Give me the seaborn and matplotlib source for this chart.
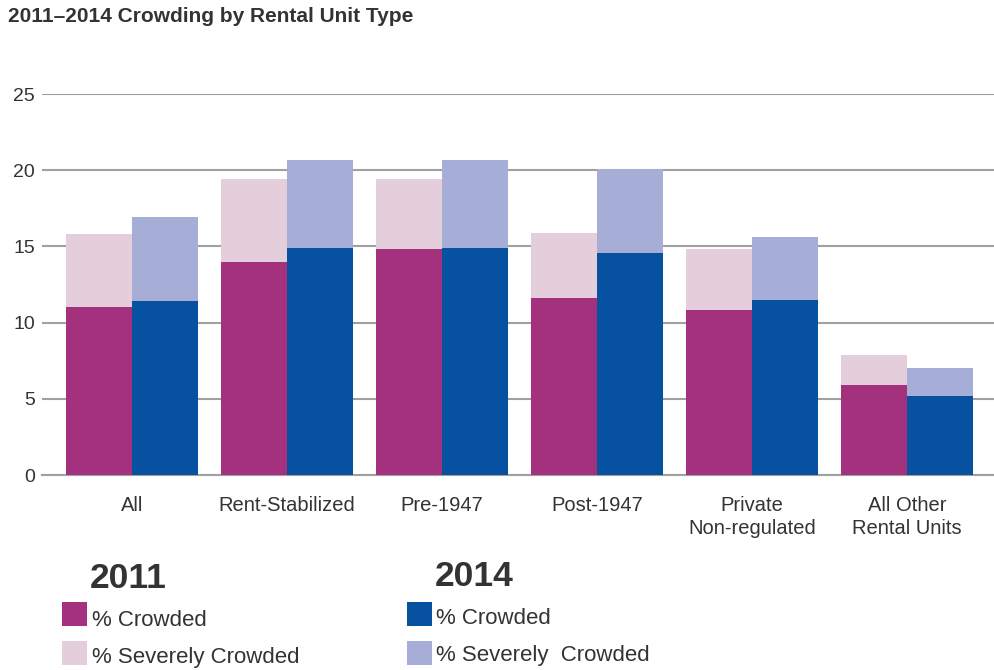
import pandas as pd
import matplotlib.pyplot as plt
import seaborn as sns
from matplotlib.patches import Rectangle

# ============================
# CORES
# ============================
MAGENTA = "#A3317E"
ROSA_CLARO = "#E4CEDB"
AZUL = "#0652A1"
LAVANDA = "#A6AED7"
TEXTO = "#333333"
GRADE = "#A0A0A0"

# ============================
# DADOS
# ============================
categorias = ["All", "Rent-Stabilized", "Pre-1947", "Post-1947",
              "Private\nNon-regulated", "All Other\nRental Units"]
anos = ["2011", "2014"]
crowded_2011 = [11.0, 14.0, 14.8, 11.6, 10.8, 5.9]
severe_2011 = [4.8, 5.4, 4.6, 4.3, 4.0, 2.0]
crowded_2014 = [11.4, 14.9, 14.9, 14.6, 11.5, 5.2]
severe_2014 = [5.5, 5.8, 5.8, 5.5, 4.1, 1.8]

linhas = []
for i, cat in enumerate(categorias):
    linhas.append({"Tipo": cat, "Ano": "2011", "Crowded": crowded_2011[i],
                   "Total": crowded_2011[i] + severe_2011[i]})
    linhas.append({"Tipo": cat, "Ano": "2014", "Crowded": crowded_2014[i],
                   "Total": crowded_2014[i] + severe_2014[i]})
df = pd.DataFrame(linhas)

# ============================
# GRAFICO
# ============================
sns.set_style("white")
plt.rcParams["font.family"] = ["Liberation Sans", "DejaVu Sans"]

fig = plt.figure(figsize=(9.94, 6.70), dpi=100)
ax = fig.add_axes([0.0423, 0.291, 0.9577, 0.5687])

sns.barplot(data=df, x="Tipo", y="Total", hue="Ano", hue_order=anos,
            palette=[ROSA_CLARO, LAVANDA], width=0.85, gap=0,
            saturation=1, legend=False, ax=ax, zorder=2)
sns.barplot(data=df, x="Tipo", y="Crowded", hue="Ano", hue_order=anos,
            palette=[MAGENTA, AZUL], width=0.85, gap=0,
            saturation=1, legend=False, ax=ax, zorder=3)
for p in ax.patches:
    p.set_linewidth(0)

ax.set_ylim(0, 25)
ax.set_xlim(-0.58, 5.56)
ax.set_yticks([0, 5, 10, 15, 20, 25])
ax.yaxis.grid(True, color=GRADE, linewidth=1.5)
ax.set_axisbelow(True)
ax.set_xlabel("")
ax.set_ylabel("")

for s in ["top", "right", "left"]:
    ax.spines[s].set_visible(False)
ax.spines["bottom"].set_color(GRADE)
ax.spines["bottom"].set_linewidth(1.5)

ax.set_xticks(range(len(categorias)))
ax.set_xticklabels(categorias, fontsize=14.5, color=TEXTO, linespacing=1.3)
ax.set_xticks([i + 0.5 for i in range(len(categorias) - 1)], minor=True)
ax.tick_params(axis="x", which="major", length=0, pad=15)
ax.tick_params(axis="x", which="minor", length=8, width=1, color=GRADE)
ax.tick_params(axis="y", length=0, pad=5, labelsize=14, labelcolor=TEXTO)

fig.text(8 / 994, 1 - 17 / 670, "2011\u20132014 Crowding by Rental Unit Type",
         fontsize=15, fontweight="bold", color=TEXTO, va="center")

# ============================
# LEGENDA
# ============================
def caixa(x, y, cor):
    fig.patches.append(Rectangle((x / 994, 1 - (y + 24) / 670), 25 / 994, 24 / 670,
                                 transform=fig.transFigure, color=cor, lw=0))

fig.text(90 / 994, 1 - 578 / 670, "2011", fontsize=25.5, fontweight="bold",
         color=TEXTO, va="center")
fig.text(435 / 994, 1 - 576 / 670, "2014", fontsize=25.5, fontweight="bold",
         color=TEXTO, va="center")

caixa(62, 602, MAGENTA)
caixa(62, 641, ROSA_CLARO)
caixa(407, 602, AZUL)
caixa(407, 641, LAVANDA)

fig.text(92 / 994, 1 - 620 / 670, "% Crowded", fontsize=16, color=TEXTO, va="center")
fig.text(92 / 994, 1 - 657 / 670, "% Severely Crowded", fontsize=16, color=TEXTO, va="center")
fig.text(436 / 994, 1 - 618 / 670, "% Crowded", fontsize=16, color=TEXTO, va="center")
fig.text(436 / 994, 1 - 656 / 670, "% Severely  Crowded", fontsize=16, color=TEXTO, va="center")

fig.savefig("out.png", dpi=100)
